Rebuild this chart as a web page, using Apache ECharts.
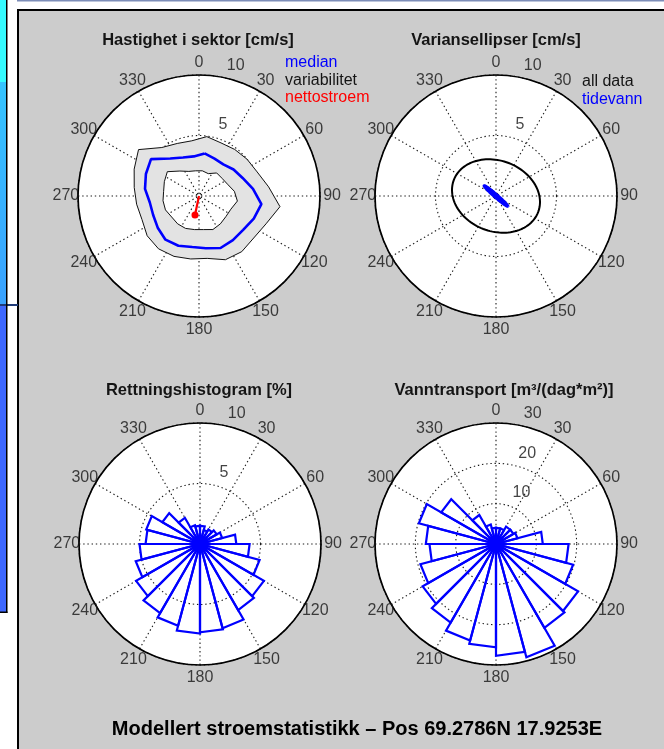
<!DOCTYPE html>
<html>
<head>
<meta charset="utf-8">
<script src="https://cdn.jsdelivr.net/npm/echarts@6/dist/echarts.min.js"></script>
<style>
  html, body { margin: 0; padding: 0; background: #fff; }
  #chart { width: 664px; height: 749px; }
</style>
</head>
<body>
<div id="chart"></div>
<script>
// ---- data -------------------------------------------------------------
// compass labels on every rose
const angleTicks = [0, 30, 60, 90, 120, 150, 180, 210, 240, 270, 300, 330];

// 15-degree sectors, centre bearing of each (deg from north, clockwise)
const sectorCentres = [7.5, 22.5, 37.5, 52.5, 67.5, 82.5, 97.5, 112.5, 127.5, 142.5, 157.5, 172.5,
                       187.5, 202.5, 217.5, 232.5, 247.5, 262.5, 277.5, 292.5, 307.5, 322.5, 337.5, 352.5];

// current speed per sector [cm/s]: median and variability envelope
const speedMedian = [3.55, 3.35, 3.3, 3.6, 3.9, 4.5, 5.2, 4.9, 4.6, 4.6, 4.65, 4.35,
                     4.25, 4.45, 4.55, 4.3, 4.1, 4.1, 4.5, 4.75, 5.0, 3.9, 3.45, 3.3];
const speedUpper  = [4.95, 4.75, 4.85, 5.0, 5.2, 5.8, 6.75, 6.0, 5.7, 5.8, 5.7, 5.2,
                     5.25, 5.4, 5.5, 5.4, 5.1, 5.2, 5.4, 5.8, 6.3, 5.05, 4.7, 4.6];
const speedLower  = [2.1, 2.0, 2.4, 2.4, 2.55, 2.95, 3.2, 2.85, 2.8, 2.9, 3.0, 2.8,
                     2.8, 2.9, 2.9, 2.85, 3.0, 3.0, 2.95, 3.1, 3.3, 2.6, 2.2, 2.1];
// net current: [speed cm/s, bearing deg]
const netCurrent = [1.6, 192];
const speedTicks = [5, 10];

// variance ellipses: [semi-major cm/s, semi-minor cm/s, bearing of major axis]
const ellipseAll  = [3.73, 2.92, 111];
const ellipseTide = [1.3, 0.12, 131];
const ellipseTicks = [5, 10];

// direction histogram [%] per sector
const directionPct = [1.5, 1.2, 1.4, 1.6, 1.9, 3.0, 4.1, 5.1, 6.1, 6.3, 7.2, 7.3,
                      7.4, 7.0, 6.6, 6.1, 5.5, 5.0, 4.5, 4.6, 3.6, 2.5, 1.6, 1.5];
const histTicks = [5, 10];

// water transport [m3/(dag*m2)] per sector
const transport = [4, 4, 5, 5, 5.5, 11.6, 18, 19.8, 23.5, 24, 29.1, 27.7,
                   25.6, 24.8, 22.5, 21, 19.4, 16.5, 17.4, 19.8, 15.7, 8.3, 5, 4];
const transportTicks = [10, 20, 30];

// ---- layout -----------------------------------------------------------
const FONT = '"Liberation Sans", Arial, Helvetica, sans-serif';
const INK = '#141414';
const BLUE = '#0000ff';
const RED = '#ff0000';
const R = 121;
const polars = [
  { center: [199, 196], radius: R, max: 10, ticks: speedTicks },
  { center: [496, 196], radius: R, max: 10, ticks: ellipseTicks },
  { center: [200, 544], radius: R, max: 10, ticks: histTicks },
  { center: [496, 544], radius: R, max: 30, ticks: transportTicks }
];
const BIN = sectorCentres[1] - sectorCentres[0];
const GRID = { color: '#1a1a1a', width: 1.1, type: [1.4, 2.8] };

const closed = (vals) => vals.map((v, i) => [v, sectorCentres[i]]).concat([[vals[0], sectorCentres[0]]]);

// ---- renderers ----------------------------------------------------------
function ringItem(params, api) {
  if (params.dataIndex !== 0) return null;
  const outer = sectorCentres.map((a, i) => api.coord([speedUpper[i], a]));
  const inner = sectorCentres.map((a, i) => api.coord([speedLower[i], a]));
  const pts = outer.concat([outer[0], inner[0]], inner.slice(1).reverse(), [inner[0]]);
  return { type: 'polygon', shape: { points: pts }, style: { fill: '#e3e3e3', stroke: null } };
}

function ellipseRenderer(color, width) {
  return function (params, api) {
    const a = api.value(0), b = api.value(1), brg = api.value(2) * Math.PI / 180;
    const pts = [];
    for (let k = 0; k <= 120; k++) {
      const t = k / 120 * 2 * Math.PI;
      const e = a * Math.cos(t) * Math.sin(brg) + b * Math.sin(t) * Math.cos(brg);
      const n = a * Math.cos(t) * Math.cos(brg) - b * Math.sin(t) * Math.sin(brg);
      const ang = (Math.atan2(e, n) * 180 / Math.PI + 360) % 360;
      pts.push(api.coord([Math.hypot(e, n), ang]));
    }
    return { type: 'polyline', shape: { points: pts }, style: { fill: null, stroke: color, lineWidth: width, lineJoin: 'round' } };
  };
}

function wedgeItem(params, api) {
  const r = api.value(0), c = api.value(1), h = BIN / 2;
  const p0 = api.coord([0, c]);
  const p1 = api.coord([r, c - h]);
  const p2 = api.coord([r, c + h]);
  return { type: 'polyline', shape: { points: [p0, p1, p2, p0] },
           style: { fill: null, stroke: BLUE, lineWidth: 2.2, lineJoin: 'miter' } };
}

// ---- axes -------------------------------------------------------------
const angleAxis = polars.map((p, i) => ({
  polarIndex: i, type: 'value', min: 0, max: 360, interval: 30,
  startAngle: 90, clockwise: true,
  axisLine: { lineStyle: { color: '#000', width: 1.7 } },
  axisTick: { show: false }, axisLabel: { show: false },
  splitLine: { show: true, lineStyle: GRID }
}));
const radiusAxis = polars.map((p, i) => ({
  polarIndex: i, type: 'value', min: 0, max: p.max, interval: p.ticks[0],
  axisLine: { show: false }, axisTick: { show: false }, axisLabel: { show: false },
  splitLine: { show: true, lineStyle: GRID }
}));

// ---- series -----------------------------------------------------------
const series = [];
const P = 'polar';

// tick labels on each rose
polars.forEach((p, i) => {
  series.push({
    type: 'scatter', coordinateSystem: P, polarIndex: i, silent: true, clip: false, symbolSize: 1,
    itemStyle: { color: 'transparent' },
    data: angleTicks.map(a => [p.max * 1.1, a]),
    label: { show: true, position: 'inside', formatter: d => String(d.value[1]),
             color: INK, fontFamily: FONT, fontSize: 16 },
    z: 5
  });
  series.push({
    type: 'scatter', coordinateSystem: P, polarIndex: i, silent: true, clip: false, symbolSize: 1,
    itemStyle: { color: 'transparent' },
    data: p.ticks.map(t => [t, 8]),
    label: { show: true, position: 'inside', formatter: d => String(d.value[0]),
             align: 'left', verticalAlign: 'bottom', offset: [11, -3],
             color: INK, fontFamily: FONT, fontSize: 16 },
    z: 5
  });
});

// speed by sector
series.push({
  name: 'variabilitet', type: 'custom', coordinateSystem: P, polarIndex: 0, renderItem: ringItem, z: 2,
  data: sectorCentres.map((a, i) => [speedUpper[i], a, speedLower[i]])
});
series.push({ name: 'variabilitet', type: 'line', coordinateSystem: P, polarIndex: 0, data: closed(speedUpper),
  showSymbol: false, lineStyle: { color: '#111', width: 1 }, itemStyle: { color: '#000' }, z: 3 });
series.push({ name: 'variabilitet', type: 'line', coordinateSystem: P, polarIndex: 0, data: closed(speedLower),
  showSymbol: false, lineStyle: { color: '#111', width: 1 }, itemStyle: { color: '#000' }, z: 3 });
series.push({ name: 'median', type: 'line', coordinateSystem: P, polarIndex: 0, data: closed(speedMedian),
  showSymbol: false, lineStyle: { color: BLUE, width: 2.6 }, itemStyle: { color: BLUE }, z: 4 });
series.push({ name: 'nettostroem', type: 'line', coordinateSystem: P, polarIndex: 0,
  data: [{ value: [0, netCurrent[1]], symbolSize: 0 }, { value: netCurrent, symbolSize: 7 }],
  symbol: 'circle', showSymbol: true,
  lineStyle: { color: RED, width: 2.2 }, itemStyle: { color: RED }, z: 6 });

// variance ellipses
series.push({ name: 'all data', type: 'custom', coordinateSystem: P, polarIndex: 1,
  renderItem: ellipseRenderer('#000', 2), data: [ellipseAll], z: 3 });
series.push({ name: 'tidevann', type: 'custom', coordinateSystem: P, polarIndex: 1,
  renderItem: ellipseRenderer(BLUE, 3), data: [ellipseTide], z: 4 });

// direction histogram and water transport roses
series.push({ type: 'custom', coordinateSystem: P, polarIndex: 2, renderItem: wedgeItem, z: 3,
  data: directionPct.map((v, i) => [v, sectorCentres[i]]) });
series.push({ type: 'custom', coordinateSystem: P, polarIndex: 3, renderItem: wedgeItem, z: 3,
  data: transport.map((v, i) => [v, sectorCentres[i]]) });

// ---- decoration, titles ------------------------------------------------
const graphic = [
  { type: 'rect', z: -10, shape: { x: 18, y: 10, width: 700, height: 800 }, style: { fill: '#cccccc', stroke: '#000', lineWidth: 2 } },
  { type: 'rect', z: -10, shape: { x: 17, y: 0, width: 647, height: 1.5 }, style: { fill: '#7d8db8' } },
  { type: 'rect', z: -10, shape: { x: 0, y: 0, width: 6, height: 82 }, style: { fill: '#36fbff' } },
  { type: 'rect', z: -10, shape: { x: 0, y: 82, width: 6, height: 222 },
    style: { fill: new echarts.graphic.LinearGradient(0, 0, 0, 1, [{ offset: 0, color: '#36c4ff' }, { offset: 1, color: '#3aa2ff' }]) } },
  { type: 'rect', z: -10, shape: { x: 0, y: 304, width: 18, height: 2 }, style: { fill: '#1f3a78' } },
  { type: 'rect', z: -10, shape: { x: 0, y: 306, width: 6, height: 306 }, style: { fill: '#3e68ff' } },
  { type: 'rect', z: -9, shape: { x: 6, y: 0, width: 1.5, height: 613 }, style: { fill: '#000' } },
  { type: 'rect', z: -9, shape: { x: 0, y: 611.5, width: 7.5, height: 1.5 }, style: { fill: '#000' } }
];
polars.forEach(p => graphic.push({ type: 'circle', z: -5, shape: { cx: p.center[0], cy: p.center[1], r: p.radius }, style: { fill: '#fff' } }));

const titles = [
  ['Hastighet i sektor [cm/s]', 198, 40],
  ['Variansellipser [cm/s]', 496, 40],
  ['Rettningshistogram [%]', 199, 390],
  ['Vanntransport [m³/(dag*m²)]', 504, 390]
];
titles.forEach(([t, x, y]) => graphic.push({ type: 'text', x, y, z: 10,
  style: { text: t, font: 'bold 16.5px ' + FONT, fill: INK, textAlign: 'center', textVerticalAlign: 'middle' } }));
graphic.push({ type: 'text', x: 357, y: 729, z: 10,
  style: { text: 'Modellert stroemstatistikk – Pos 69.2786N 17.9253E', font: 'bold 20px ' + FONT, fill: '#000', textAlign: 'center', textVerticalAlign: 'middle' } });

const legendBase = {
  orient: 'vertical', icon: 'none', itemWidth: 0, itemHeight: 16, itemGap: 1.5, padding: 0,
  selectedMode: false, textStyle: { fontFamily: FONT, fontSize: 16, color: INK },
  itemStyle: { opacity: 0 }, lineStyle: { opacity: 0 }
};

const option = {
  backgroundColor: '#fff',
  animation: false,
  polar: polars.map(p => ({ center: p.center, radius: p.radius })),
  angleAxis, radiusAxis,
  legend: [
    Object.assign({}, legendBase, { left: 280, top: 55, data: [
      { name: 'median', textStyle: { color: BLUE } },
      { name: 'variabilitet', textStyle: { color: INK } },
      { name: 'nettostroem', textStyle: { color: RED } }
    ] }),
    Object.assign({}, legendBase, { left: 577, top: 74, data: [
      { name: 'all data', textStyle: { color: INK } },
      { name: 'tidevann', textStyle: { color: BLUE } }
    ] })
  ],
  graphic,
  series
};

const chart = echarts.init(document.getElementById('chart'));
chart.setOption(option);
</script>
</body>
</html>
